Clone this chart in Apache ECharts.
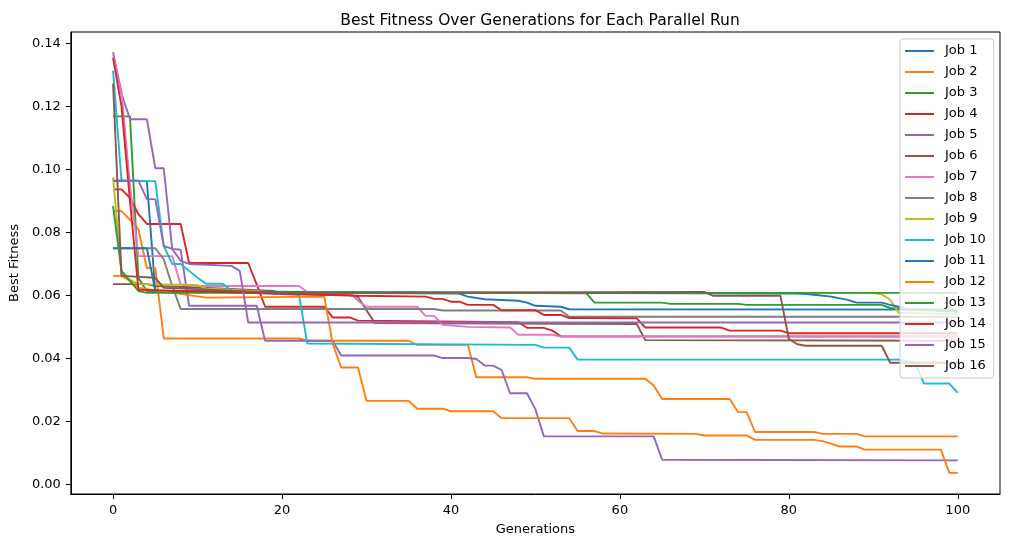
<!DOCTYPE html>
<html>
<head>
<meta charset="utf-8">
<script src="https://cdn.jsdelivr.net/npm/echarts@6/dist/echarts.min.js"></script>
<style>
  html, body { margin: 0; padding: 0; background: #fff; }
  #chart { width: 1010px; height: 547px; }
</style>
</head>
<body>
<div id="chart"></div>
<script>
// breakpoints [generation, best fitness]
var job1 = [[0,0.0963],[4,0.0963],[5,0.0614],[20,0.0609],[41,0.0606],[42,0.0596],[44,0.0588],[48,0.0583],[49,0.0577],[50,0.0567],[53,0.0564],[54,0.0556],[100,0.0555]];
var job2 = [[0,0.0868],[1,0.0868],[2,0.084],[3,0.081],[4,0.0687],[5,0.0687],[6,0.0463],[22,0.0463],[23,0.0456],[35,0.0456],[36,0.0443],[42,0.0443],[43,0.034],[49,0.034],[50,0.0335],[63,0.0335],[64,0.0314],[65,0.0271],[73,0.0271],[74,0.0229],[75,0.0229],[76,0.0166],[83,0.0166],[84,0.016],[88,0.016],[89,0.0152],[100,0.0152]];
var job3 = [[0,0.1169],[2,0.1169],[3,0.0655],[4,0.0614],[30,0.061],[56,0.0607],[57,0.0577],[65,0.0577],[66,0.0573],[74,0.0573],[75,0.057],[91,0.057],[92,0.056],[93,0.0557],[100,0.0553]];
var job4 = [[0,0.0937],[1,0.0937],[2,0.091],[3,0.0858],[4,0.0827],[8,0.0827],[9,0.0703],[16,0.0703],[17,0.0635],[18,0.0564],[25,0.0564],[26,0.053],[28,0.053],[29,0.052],[48,0.0515],[49,0.0497],[51,0.0497],[52,0.0488],[53,0.047],[100,0.047]];
var job5 = [[0,0.1373],[1,0.124],[2,0.116],[4,0.116],[5,0.1004],[6,0.1004],[7,0.0748],[8,0.0745],[9,0.0567],[17,0.0567],[18,0.0456],[26,0.0456],[27,0.0409],[38,0.0409],[39,0.0401],[42,0.0401],[43,0.0398],[44,0.0377],[45,0.0377],[46,0.0363],[47,0.0289],[49,0.0289],[50,0.0238],[51,0.0152],[64,0.0152],[65,0.0078],[100,0.0076]];
var job6 = [[0,0.0636],[4,0.0636],[5,0.063],[10,0.0625],[19,0.0614],[20,0.0604],[28,0.0601],[29,0.0595],[30,0.0553],[31,0.0512],[62,0.0509],[63,0.0458],[100,0.0456]];
var job7 = [[0,0.1365],[1,0.1248],[2,0.095],[3,0.0725],[7,0.0725],[8,0.0635],[10,0.063],[22,0.063],[23,0.0611],[28,0.0609],[29,0.0583],[30,0.0564],[36,0.0564],[37,0.0535],[38,0.0535],[39,0.0507],[42,0.05],[47,0.0498],[48,0.0475],[52,0.0475],[53,0.0469],[100,0.0469]];
var job8 = [[0,0.075],[5,0.075],[6,0.0715],[7,0.063],[8,0.0557],[38,0.0557],[39,0.0552],[53,0.0552],[54,0.0532],[100,0.0532]];
var job9 = [[0,0.0975],[1,0.0668],[2,0.065],[3,0.0636],[10,0.0633],[11,0.0622],[18,0.0612],[19,0.0608],[90,0.0608],[91,0.0603],[92,0.0586],[93,0.0545],[100,0.054]];
var job10 = [[0,0.1314],[1,0.0963],[5,0.0963],[6,0.0757],[7,0.07],[8,0.07],[9,0.0678],[10,0.0656],[11,0.0637],[13,0.0637],[14,0.0615],[19,0.0605],[22,0.0602],[23,0.0447],[50,0.0443],[51,0.0434],[54,0.0434],[55,0.0396],[93,0.0396],[94,0.0392],[95,0.0383],[96,0.032],[99,0.032],[100,0.029]];
var job11 = [[0,0.075],[4,0.075],[5,0.0614],[20,0.061],[81,0.0606],[82,0.0604],[83,0.0602],[85,0.0596],[87,0.0586],[88,0.0577],[91,0.0577],[92,0.057],[93,0.0564],[94,0.0556],[100,0.0548]];
var job12 = [[0,0.0662],[1,0.0662],[2,0.0646],[3,0.0624],[11,0.0593],[25,0.0596],[26,0.0447],[27,0.0371],[29,0.0371],[30,0.0265],[35,0.0265],[36,0.024],[39,0.024],[40,0.0232],[45,0.0232],[46,0.021],[54,0.021],[55,0.0169],[57,0.0169],[58,0.0161],[69,0.016],[70,0.0155],[75,0.0155],[76,0.0141],[83,0.0141],[84,0.0137],[85,0.0129],[86,0.012],[88,0.012],[89,0.011],[98,0.011],[99,0.0036],[100,0.0036]];
var job13 = [[0,0.0884],[1,0.0678],[2,0.0646],[3,0.0614],[4,0.0608],[100,0.0608]];
var job14 = [[0,0.1355],[1,0.12],[2,0.09],[3,0.0618],[20,0.0605],[29,0.0599],[37,0.0596],[38,0.0589],[39,0.0589],[40,0.058],[41,0.058],[42,0.057],[45,0.057],[46,0.0553],[50,0.0553],[51,0.0538],[53,0.0538],[54,0.0528],[62,0.0527],[63,0.0498],[72,0.0498],[73,0.0488],[79,0.0488],[80,0.048],[100,0.048]];
var job15 = [[0,0.0965],[3,0.0965],[4,0.0906],[5,0.0906],[6,0.0757],[7,0.0748],[8,0.071],[9,0.07],[14,0.0694],[15,0.0678],[16,0.0514],[100,0.0514]];
var job16 = [[0,0.1273],[1,0.0662],[5,0.0656],[6,0.0624],[10,0.062],[19,0.0608],[70,0.0611],[71,0.0599],[79,0.0599],[80,0.0462],[81,0.0445],[82,0.044],[91,0.044],[92,0.0386],[100,0.0386]];

var jobNames = ['Job 1','Job 2','Job 3','Job 4','Job 5','Job 6','Job 7','Job 8','Job 9','Job 10','Job 11','Job 12','Job 13','Job 14','Job 15','Job 16'];
var jobData = [job1, job2, job3, job4, job5, job6, job7, job8, job9, job10, job11, job12, job13, job14, job15, job16];
var xTicks = [0, 20, 40, 60, 80, 100];
var yTicks = [0, 0.02, 0.04, 0.06, 0.08, 0.10, 0.12, 0.14];

// matplotlib tab10, cycling
var colors = ['#1f77b4','#ff7f0e','#2ca02c','#d62728','#9467bd','#8c564b','#e377c2','#7f7f7f','#bcbd22','#17becf'];
var font = 'DejaVu Sans';

var chart = echarts.init(document.getElementById('chart'));

var series = [];
for (var i = 0; i < jobData.length; i++) {
  series.push({
    name: jobNames[i],
    type: 'line',
    data: jobData[i],
    symbol: 'none',
    color: colors[i % 10],
    lineStyle: { width: 1.9, color: colors[i % 10] },
    silent: true
  });
}

var option = {
  animation: false,
  backgroundColor: '#fff',
  title: {
    text: 'Best Fitness Over Generations for Each Parallel Run',
    left: 535,
    top: 8,
    textAlign: 'center',
    textStyle: { fontFamily: font, fontSize: 15.5, fontWeight: 'normal', color: '#000' }
  },
  grid: {
    left: 70, right: 10, top: 32, bottom: 53,
    show: true, borderColor: '#000', borderWidth: 1, backgroundColor: 'transparent'
  },
  legend: {
    orient: 'vertical',
    left: 900,
    top: 39,
    data: jobNames,
    icon: 'rect',
    itemWidth: 29,
    itemHeight: 2,
    itemGap: 7,
    padding: [5, 8, 5, 5],
    backgroundColor: 'rgba(255,255,255,0.8)',
    borderColor: '#cccccc',
    borderWidth: 1,
    borderRadius: 3,
    textStyle: { fontFamily: font, fontSize: 13, color: '#000', lineHeight: 14, padding: [0, 0, 0, 6] }
  },
  xAxis: {
    type: 'value',
    min: -5,
    max: 105,
    name: 'Generations',
    nameLocation: 'middle',
    nameGap: 29,
    nameTextStyle: { fontFamily: font, fontSize: 13, color: '#000' },
    axisLine: { onZero: false, lineStyle: { color: '#000', width: 1 } },
    axisTick: { customValues: xTicks, length: 5, lineStyle: { color: '#000' } },
    axisLabel: { customValues: xTicks, margin: 10, fontFamily: font, fontSize: 13, color: '#000' },
    splitLine: { show: false }
  },
  yAxis: {
    type: 'value',
    min: -0.0031,
    max: 0.1437,
    name: 'Best Fitness',
    nameLocation: 'middle',
    nameGap: 46,
    nameTextStyle: { fontFamily: font, fontSize: 13, color: '#000' },
    axisLine: { show: true, onZero: false, lineStyle: { color: '#000', width: 1 } },
    axisTick: { show: true, customValues: yTicks, length: 5, lineStyle: { color: '#000' } },
    axisLabel: {
      customValues: yTicks, margin: 10, fontFamily: font, fontSize: 13, color: '#000',
      formatter: function (v) { return v.toFixed(2); }
    },
    splitLine: { show: false }
  },
  series: series
};

chart.setOption(option);
</script>
</body>
</html>
